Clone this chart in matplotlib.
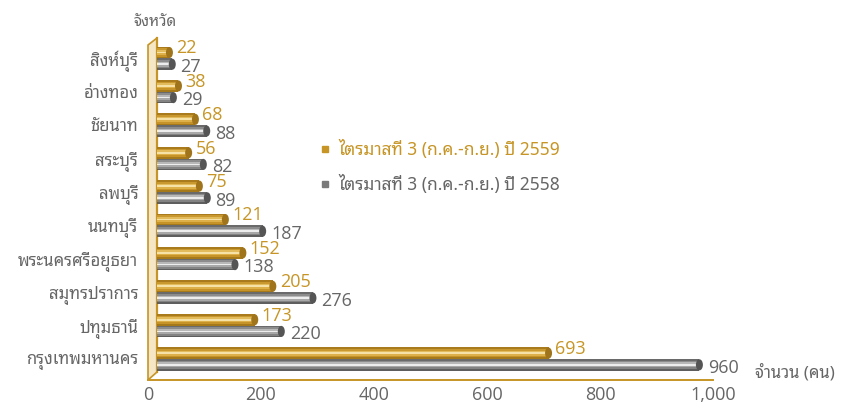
import matplotlib
matplotlib.use('Agg')
import matplotlib.pyplot as plt
import matplotlib.transforms as mtransforms
from matplotlib.patches import Ellipse, Polygon
from matplotlib.lines import Line2D
import numpy as np

plt.rcParams['font.family'] = ['Noto Sans Thai Looped', 'DejaVu Sans']
num_font = ['Open Sans', 'DejaVu Sans']

provinces = ['กรุงเทพมหานคร', 'ปทุมธานี', 'สมุทรปราการ', 'พระนครศรีอยุธยา', 'นนทบุรี',
             'ลพบุรี', 'สระบุรี', 'ชัยนาท', 'อ่างทอง', 'สิงห์บุรี']
q3_2559 = [693, 173, 205, 152, 121, 75, 56, 68, 38, 22]
q3_2558 = [960, 220, 276, 138, 187, 89, 82, 88, 29, 27]
xticks = [0, 200, 400, 600, 800, 1000]
xtick_labels = ['0', '200', '400', '600', '800', '1,000']
series_names = ['ไตรมาสที่ 3 (ก.ค.-ก.ย.) ปี 2559', 'ไตรมาสที่ 3 (ก.ค.-ก.ย.) ปี 2558']

gold = '#C69526'
grey = '#7A7A7A'
text_grey = '#666666'
wall_fill = '#F5E6C6'

# shading across the bar height, top -> bottom, to fake a cylinder
gold_shades = ['#A97B1C', '#C9992F', '#E2BC5C', '#F6E2A6', '#DDB04A', '#C59328', '#A57819']
grey_shades = ['#6A6A6A', '#8C8C8C', '#B8B8B8', '#EDEDED', '#A8A8A8', '#838383', '#5E5E5E']

fig = plt.figure(figsize=(8.42, 4.03), dpi=100)
W, H = 842, 403
ax = fig.add_axes([157 / W, 31 / H, 565 / W, 334 / H])
ax.set_xlim(0, 1000)
ax.set_ylim(-0.39, 9.61)
for s in ax.spines.values():
    s.set_visible(False)

# 3d depth offset (front plane vs back plane)
off = mtransforms.ScaledTranslation(-9 / 100, -8 / 100, fig.dpi_scale_trans)

# left wall
wall = Polygon([(0, 0), (0, 1), (-9 / 565, 1 - 7 / 334), (-9 / 565, -8 / 334)],
               closed=True, transform=ax.transAxes, facecolor=wall_fill,
               edgecolor=gold, linewidth=1.2, clip_on=False, zorder=0)
ax.add_patch(wall)
ax.plot([0, 0], [0, 1], transform=ax.transAxes, color=gold, lw=1.6, clip_on=False, zorder=1)
# floor front edge
ax.plot([0, 1], [0, 0], transform=ax.transAxes + off, color=gold, lw=1.4, clip_on=False, zorder=1)

y = np.arange(len(provinces))
bh = 0.35
nsl = len(gold_shades)
cap_w = 7 / 0.565

def cylinder(vals, ycen, shades, cap_color):
    for k, c in enumerate(shades):
        top = ycen + bh / 2 - k * bh / nsl
        ax.barh(top - bh / nsl / 2, vals, height=bh / nsl, left=0,
                color=c, linewidth=0, zorder=3)
    for v, yc in zip(vals, ycen):
        ax.add_patch(Ellipse((v, yc), cap_w, bh * 0.95, facecolor=cap_color,
                             edgecolor='none', zorder=4))

cylinder(q3_2559, y + bh / 2, gold_shades, '#A0741A')
cylinder(q3_2558, y - bh / 2, grey_shades, '#555555')

for v, yc in zip(q3_2559, y + bh / 2):
    ax.annotate(str(v), (v, yc), xytext=(5, 3), textcoords='offset points',
                ha='left', va='center', fontsize=13, color=gold, zorder=5, family=num_font)
for v, yc in zip(q3_2558, y - bh / 2):
    ax.annotate(str(v), (v, yc), xytext=(6, -2), textcoords='offset points',
                ha='left', va='center', fontsize=13, color=text_grey, zorder=5, family=num_font)

ax.set_yticks(y)
ax.set_yticklabels(provinces, fontsize=12, color=text_grey)
ax.tick_params(axis='y', length=0, pad=13.5)
ax.set_xticks(xticks)
ax.set_xticklabels(xtick_labels, fontsize=13, color=text_grey, family=num_font)
ax.tick_params(axis='x', length=0, pad=4)
for lbl in ax.get_xticklabels():
    lbl.set_transform(lbl.get_transform() + off)

handles = [Line2D([], [], marker='s', ls='none', color=gold, markersize=5),
           Line2D([], [], marker='s', ls='none', color=grey, markersize=5)]
leg = ax.legend(handles, series_names, loc='upper left', frameon=False,
                bbox_to_anchor=(304 / W, 1 - 124 / H), bbox_transform=fig.transFigure,
                fontsize=12.5, handlelength=0.6, handletextpad=0.5, labelspacing=0.95)
leg.get_texts()[0].set_color(gold)
leg.get_texts()[1].set_color(text_grey)

fig.text(155 / W, 1 - 22 / H, 'จังหวัด', ha='center', va='center', fontsize=11, color=text_grey)
fig.text(755 / W, 1 - 373 / H, 'จำนวน (คน)', ha='left', va='center', fontsize=12, color=text_grey)

fig.savefig('out.png', dpi=100)
